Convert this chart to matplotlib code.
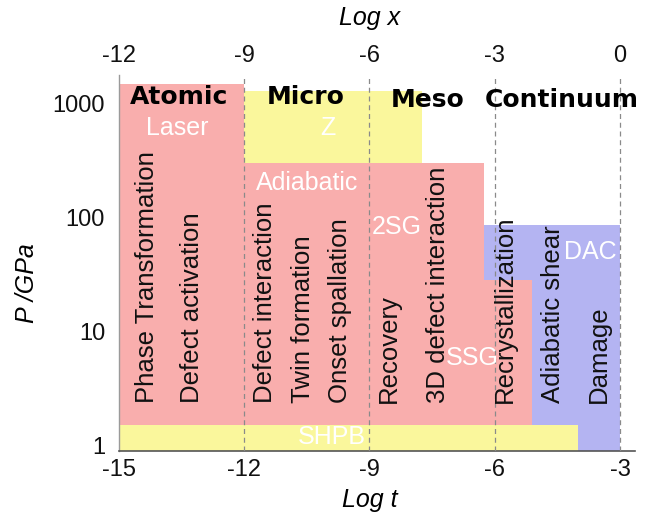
import matplotlib
matplotlib.use("Agg")
import matplotlib.pyplot as plt

plt.rcParams["font.family"] = ["Liberation Sans", "DejaVu Sans"]

# Loading techniques: time span (log t) and pressure span (GPa)
techniques = ["Laser", "Z", "Adiabatic", "DAC", "SSG", "SHPB"]
t_start = [-15.0, -12.0, -12.0, -6.25, -6.25, -15.0]
t_end = [-12.0, -7.75, -6.25, -3.0, -5.1, -4.0]
p_low = [0.8, 300.0, 0.8, 0.8, 0.8, 0.8]
p_high = [1470.0, 1275.0, 300.0, 85.0, 28.0, 1.5]
technique_colors = ["#F9AEAD", "#FAF79C", "#F9AEAD", "#B4B4F2", "#F9AEAD", "#FAF79C"]

# Extra white labels inside the coloured blocks
block_labels = ["Laser", "Z", "Adiabatic", "2SG", "SSG", "DAC", "SHPB"]
block_label_t = [-13.6, -10.0, -10.5, -8.35, -6.55, -3.7, -9.9]
block_label_p = [600.0, 600.0, 199.0, 82.0, 5.8, 49.0, 1.18]

# Scale regimes
regimes = ["Atomic", "Micro", "Meso", "Continuum"]
regime_t = [-13.56, -10.52, -7.6, -4.39]
regime_p = [1130.0, 1130.0, 1063.0, 1063.0]

# Mechanisms
mechanisms = ["Phase Transformation", "Defect activation", "Defect interaction",
              "Twin formation", "Onset spallation", "Recovery",
              "3D defect interaction", "Recrystallization", "Adiabatic shear", "Damage"]
mechanism_t = [-14.32, -13.25, -11.5, -10.59, -9.71, -8.53, -7.35, -5.75, -4.6, -3.5]
mechanism_p_base = 2.34

t_ticks = [-15, -12, -9, -6, -3]
x_ticks = [-12, -9, -6, -3, 0]
p_ticks = [1, 10, 100, 1000]
p_ticklabels = ["1", "10", "100", "1000"]

fig = plt.figure(figsize=(6.48, 5.19), dpi=100)
ax = fig.add_axes([119 / 648, 68 / 519, (635 - 119) / 648, (451 - 75) / 519])

ax.set_yscale("log")
ax.set_xlim(-15, -2.64)
ax.set_ylim(0.886, 1762)

# later blocks sit on top of earlier ones
for i, name in enumerate(techniques):
    ax.bar(t_start[i], p_high[i] - p_low[i], width=t_end[i] - t_start[i],
           bottom=p_low[i], align="edge", color=technique_colors[i],
           edgecolor="none", linewidth=0, zorder=1 + 0.01 * i)

for t in t_ticks[1:]:
    ax.axvline(t, color="#8a8a8a", lw=0.9, ls=(0, (4, 3)), zorder=3)

for s, t, p in zip(block_labels, block_label_t, block_label_p):
    ax.text(t, p, s, color="white", fontsize=18, ha="center", va="center", zorder=4)

for s, t, p in zip(regimes, regime_t, regime_p):
    ax.text(t, p, s, color="black", fontsize=18, fontweight="bold",
            family="DejaVu Sans", ha="center", va="center", zorder=5, clip_on=False)

for s, t in zip(mechanisms, mechanism_t):
    ax.text(t, mechanism_p_base, s, rotation=90, fontsize=18.5, ha="center",
            va="bottom", color="#111111", zorder=5)

ax.set_xticks(t_ticks)
ax.set_xticklabels([str(v) for v in t_ticks])
ax.set_yticks(p_ticks)
ax.set_yticklabels(p_ticklabels)
ax.yaxis.set_minor_locator(matplotlib.ticker.NullLocator())
ax.tick_params(axis="both", length=0, labelsize=17, colors="#111111")
ax.tick_params(axis="x", pad=6)
ax.tick_params(axis="y", pad=10)

top = ax.secondary_xaxis("top", functions=(lambda v: v + 3, lambda v: v - 3))
top.set_xticks(x_ticks)
top.set_xticklabels([str(v) for v in x_ticks])
top.tick_params(length=0, labelsize=17, pad=6, colors="#111111")
top.spines["top"].set_visible(False)

for side in ["top", "right"]:
    ax.spines[side].set_visible(False)
ax.spines["left"].set_color("#9a9a9a")
ax.spines["left"].set_linewidth(1.0)
ax.spines["bottom"].set_color("#555555")
ax.spines["bottom"].set_linewidth(1.2)

fig.text(370 / 648, 1 - 500 / 519, "Log t", fontsize=18, style="italic",
         ha="center", va="center")
fig.text(370 / 648, 1 - 18 / 519, "Log x", fontsize=18, style="italic",
         ha="center", va="center")
fig.text(27 / 648, 1 - 283 / 519, "P /GPa", fontsize=18, style="italic",
         rotation=90, ha="center", va="center")

fig.savefig("out.png", dpi=100)
